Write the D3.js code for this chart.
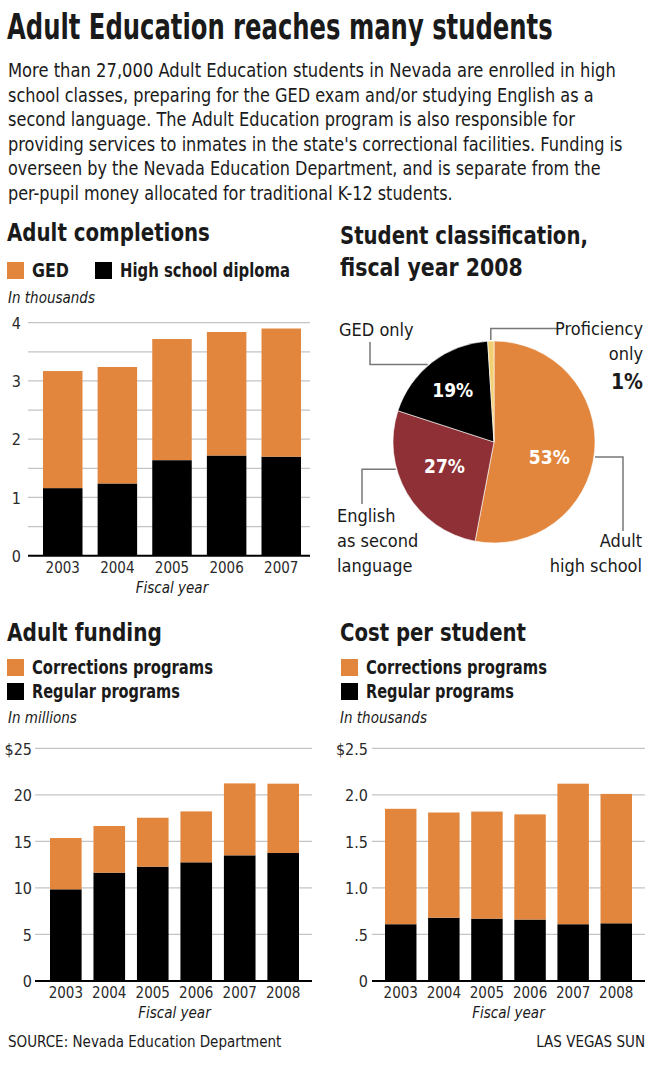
<!DOCTYPE html>
<html>
<head>
<meta charset="utf-8">
<script src="https://cdn.jsdelivr.net/npm/d3@7"></script>
<style>
  body { margin: 0; background: #fff; }
  svg text { font-family: "DejaVu Sans Condensed", "DejaVu Sans", sans-serif; font-stretch: condensed; fill: #1a1a1a; }
  .hed { font-weight: bold; }
  .bold { font-weight: bold; }
  .ital { font-style: italic; }
</style>
</head>
<body>
<div id="chart"></div>
<script>
// ---- data ----
var headline = "Adult Education reaches many students";
var introLines = [
  "More than 27,000 Adult Education students in Nevada are enrolled in high",
  "school classes, preparing for the GED exam and/or studying English as a",
  "second language. The Adult Education program is also responsible for",
  "providing services to inmates in the state's correctional facilities. Funding is",
  "overseen by the Nevada Education Department, and is separate from the",
  "per-pupil money allocated for traditional K-12 students."
];

var completionYears = ["2003", "2004", "2005", "2006", "2007"];
var completionsDiploma = [1.16, 1.24, 1.64, 1.72, 1.70];
var completionsGED = [2.01, 2.00, 2.08, 2.12, 2.20];
var completionTicks = [0, 1, 2, 3, 4];
var completionTickLabels = ["0", "1", "2", "3", "4"];

var fundingYears = ["2003", "2004", "2005", "2006", "2007", "2008"];
var fundingRegular = [9.85, 11.64, 12.28, 12.75, 13.50, 13.75];
var fundingCorrections = [5.51, 5.01, 5.26, 5.47, 7.73, 7.45];
var fundingTicks = [0, 5, 10, 15, 20, 25];
var fundingTickLabels = ["0", "5", "10", "15", "20", "$25"];

var costYears = ["2003", "2004", "2005", "2006", "2007", "2008"];
var costRegular = [0.61, 0.68, 0.67, 0.66, 0.61, 0.62];
var costCorrections = [1.24, 1.13, 1.15, 1.13, 1.51, 1.39];
var costTicks = [0, 0.5, 1, 1.5, 2, 2.5];
var costTickLabels = ["0", ".5", "1.0", "1.5", "2.0", "$2.5"];

var pieNames = ["Adult high school", "English as second language", "GED only", "Proficiency only"];
var pieValues = [53, 27, 19, 1];

var orange = "#e2863d", darkred = "#8e3035", yellow = "#f2cf73";

var svg = d3.select("#chart").append("svg")
    .attr("width", 653)
    .attr("height", 1082);

// squeeze a text horizontally so it spans w pixels
function fit(t, x, y, w) {
  var n = t.node().getComputedTextLength();
  t.attr("transform", "translate(" + x + "," + y + ") scale(" + (w / n) + ",1)");
  return t;
}

// ---- header ----
fit(svg.append("text")
    .attr("class", "hed")
    .attr("font-size", 36)
    .text(headline), 7, 39, 546);

var introWidths = [608, 586, 567, 615, 593, 445];
introLines.forEach(function(l, i) {
  fit(svg.append("text")
      .attr("font-size", 20)
      .text(l), 8, 77 + i * 24.5, introWidths[i]);
});

function title(x, y, str, w) {
  fit(svg.append("text").attr("class", "hed")
      .attr("font-size", 25)
      .text(str), x, y, w);
}

function legendItem(x, y, color, str, w) {
  svg.append("rect")
      .attr("x", x).attr("y", y - 15)
      .attr("width", 17).attr("height", 17)
      .attr("fill", color);
  fit(svg.append("text").attr("class", "bold")
      .attr("font-size", 19)
      .text(str), x + 25, y, w);
}

function note(x, y, str) {
  svg.append("text").attr("class", "ital")
      .attr("x", x).attr("y", y)
      .attr("font-size", 15)
      .text(str);
}

// ---- stacked bar chart ----
function stackedBars(o) {
  var x = d3.scaleBand()
      .domain(o.years)
      .range([o.barX0, o.barX1])
      .paddingInner(o.pad)
      .paddingOuter(0);
  var y = d3.scaleLinear()
      .domain([0, o.max])
      .range([o.y0, o.y1]);

  var g = svg.append("g");

  g.selectAll("line.grid")
      .data(o.grid)
      .enter().append("line")
      .attr("x1", o.gridX0).attr("x2", o.gridX1)
      .attr("y1", function(d) { return y(d); })
      .attr("y2", function(d) { return y(d); })
      .attr("stroke", "#c4c4c4")
      .attr("stroke-width", 1.2);

  var rows = o.years.map(function(yr, i) {
    return { year: yr, bottom: o.bottom[i], top: o.top[i] };
  });
  var series = d3.stack().keys(["bottom", "top"])(rows);
  var colors = ["#000", orange];

  series.forEach(function(s, k) {
    g.selectAll("rect.s" + k)
        .data(s)
        .enter().append("rect")
        .attr("x", function(d) { return x(d.data.year); })
        .attr("width", x.bandwidth())
        .attr("y", function(d) { return y(d[1]); })
        .attr("height", function(d) { return y(d[0]) - y(d[1]); })
        .attr("fill", colors[k]);
  });

  var yAxis = d3.axisLeft(y)
      .tickValues(o.ticks)
      .tickFormat(function(d, i) { return o.tickLabels[i]; })
      .tickSize(0)
      .tickPadding(0);
  var ya = g.append("g")
      .attr("transform", "translate(" + o.labelX + ",0)")
      .call(yAxis);
  ya.select(".domain").remove();
  ya.selectAll("text")
      .attr("font-size", 16)
      .attr("font-family", null)
      .attr("dy", "0.36em")
      .style("fill", "#2a2a2a");

  var xAxis = d3.axisBottom(x).tickSize(0).tickPadding(0);
  var xa = g.append("g")
      .attr("transform", "translate(0," + o.y0 + ")")
      .call(xAxis);
  xa.select(".domain").remove();
  xa.selectAll("text")
      .attr("font-size", 15)
      .attr("dy", 0)
      .attr("y", 17)
      .style("fill", "#2a2a2a");
  xa.attr("font-family", null);
  ya.attr("font-family", null);

  g.append("line")
      .attr("x1", o.gridX0).attr("x2", o.gridX1)
      .attr("y1", y(0)).attr("y2", y(0))
      .attr("stroke", "#000")
      .attr("stroke-width", 2);

  g.append("text").attr("class", "ital")
      .attr("x", (o.barX0 + o.barX1) / 2).attr("y", o.y0 + 37)
      .attr("text-anchor", "middle")
      .attr("font-size", 15)
      .text("Fiscal year");
}

// ---- Adult completions ----
title(7, 241, "Adult completions", 203);
legendItem(7, 277, orange, "GED", 37);
legendItem(95, 277, "#000", "High school diploma", 170);
note(8, 303, "In thousands");
stackedBars({
  years: completionYears, bottom: completionsDiploma, top: completionsGED,
  max: 4, ticks: completionTicks, tickLabels: completionTickLabels,
  grid: d3.range(0.5, 4.01, 0.5),
  barX0: 43, barX1: 301, pad: 0.277,
  y0: 555.7, y1: 322.7, gridX0: 28, gridX1: 310, labelX: 21
});

// ---- Adult funding ----
title(7, 641, "Adult funding", 155);
legendItem(7, 674, orange, "Corrections programs", 181);
legendItem(7, 698, "#000", "Regular programs", 148);
note(8, 723, "In millions");
stackedBars({
  years: fundingYears, bottom: fundingRegular, top: fundingCorrections,
  max: 25, ticks: fundingTicks, tickLabels: fundingTickLabels,
  grid: fundingTicks.slice(1),
  barX0: 50, barX1: 299, pad: 0.273,
  y0: 981, y1: 748.3, gridX0: 35, gridX1: 312, labelX: 32
});

// ---- Cost per student ----
title(340, 641, "Cost per student", 186);
legendItem(341, 674, orange, "Corrections programs", 181);
legendItem(341, 698, "#000", "Regular programs", 148);
note(340, 723, "In thousands");
stackedBars({
  years: costYears, bottom: costRegular, top: costCorrections,
  max: 2.5, ticks: costTicks, tickLabels: costTickLabels,
  grid: costTicks.slice(1),
  barX0: 385, barX1: 632, pad: 0.27,
  y0: 981, y1: 748.3, gridX0: 372, gridX1: 645, labelX: 368
});

// ---- pie ----
title(340, 244, "Student classification,", 248);
title(340, 276, "fiscal year 2008", 183);

var cx = 494, cy = 442, r = 101;
var pie = d3.pie().sort(null).value(function(d) { return d; });
var arcs = pie(pieValues);
var arc = d3.arc().innerRadius(0).outerRadius(r);
var labelArc = d3.arc().innerRadius(r * 0.57).outerRadius(r * 0.57);
var pieColors = [orange, darkred, "#000", yellow];

var pg = svg.append("g").attr("transform", "translate(" + cx + "," + cy + ")");
pg.selectAll("path")
    .data(arcs)
    .enter().append("path")
    .attr("d", arc)
    .attr("fill", function(d, i) { return pieColors[i]; })
    .attr("stroke", "#fff")
    .attr("stroke-width", 0.6);

var pctShift = [[-2, 10], [0, -5], [-6, -7]];
pg.selectAll("text.pct")
    .data(arcs.slice(0, 3))
    .enter().append("text")
    .attr("class", "bold")
    .attr("text-anchor", "middle")
    .attr("font-size", 19)
    .style("fill", "#fff")
    .attr("x", function(d, i) { return labelArc.centroid(d)[0] + pctShift[i][0]; })
    .attr("y", function(d, i) { return labelArc.centroid(d)[1] + pctShift[i][1] + 7; })
    .text(function(d) { return d.value + "%"; });

// leader lines: start on the pie edge, elbow, end near the label
function edge(deg) {
  var a = deg * Math.PI / 180;
  return [cx + (r + 1) * Math.sin(a), cy - (r + 1) * Math.cos(a)];
}
function midDeg(d) { return (d.startAngle + d.endAngle) / 2 * 180 / Math.PI; }

// h: go across to x then down/up to y; v: go up to y then across to x
var leaders = [
  { deg: 98.5, kind: "h", x: 623, y: 531 },
  { deg: 254.5, kind: "h", x: 362, y: 504 },
  { deg: 319.5, kind: "h", x: 370, y: 342 },
  { deg: midDeg(arcs[3]), kind: "v", x: 557, y: 328.5 }
];
leaders.forEach(function(l) {
  var p0 = edge(l.deg);
  var mid = l.kind === "h" ? [l.x, p0[1]] : [p0[0], l.y];
  svg.append("path")
      .attr("d", d3.line()([p0, mid, [l.x, l.y]]))
      .attr("fill", "none")
      .attr("stroke", "#777")
      .attr("stroke-width", 1.5);
});

function pieLabel(x, y, lines, anchor) {
  lines.forEach(function(s, i) {
    svg.append("text")
        .attr("x", x).attr("y", y + i * 25)
        .attr("text-anchor", anchor)
        .attr("font-size", 18)
        .text(s);
  });
}
pieLabel(339, 336, ["GED only"], "start");
pieLabel(643, 335, ["Proficiency", "only"], "end");
svg.append("text").attr("class", "bold")
    .attr("x", 643).attr("y", 389)
    .attr("text-anchor", "end")
    .attr("font-size", 21)
    .text(pieValues[3] + "%");
pieLabel(337, 522, ["English", "as second", "language"], "start");
pieLabel(642, 547, ["Adult", "high school"], "end");

// ---- footer ----
svg.append("text")
    .attr("x", 8).attr("y", 1047)
    .attr("font-size", 15)
    .text("SOURCE: Nevada Education Department");
svg.append("text")
    .attr("x", 645).attr("y", 1047)
    .attr("text-anchor", "end")
    .attr("font-size", 15)
    .text("LAS VEGAS SUN");
</script>
</body>
</html>
